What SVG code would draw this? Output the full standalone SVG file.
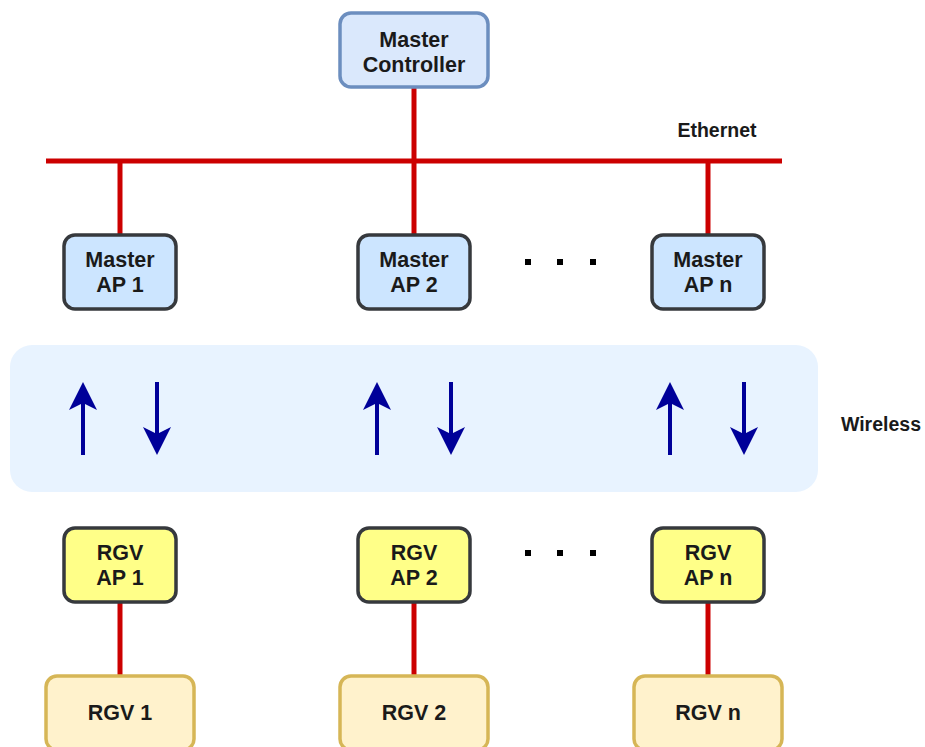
<svg xmlns="http://www.w3.org/2000/svg" width="925" height="747" viewBox="0 0 925 747">
<style>
.t{font-family:"Liberation Sans",Arial,sans-serif;font-size:21.5px;font-weight:bold;fill:#1a1a1a;text-anchor:middle}
.s{font-family:"Liberation Sans",Arial,sans-serif;font-size:19.5px;font-weight:bold;fill:#1a1a1a;text-anchor:middle}
.eth{stroke:#cc0000;stroke-width:5;fill:none}
.wl{stroke:#000099;stroke-width:4;fill:none}
.mc{fill:#dae8fc;stroke:#6c8ebf;stroke-width:3.5}
.ap{fill:#cce5ff;stroke:#36393d;stroke-width:3.5}
.ra{fill:#ffff88;stroke:#36393d;stroke-width:3.5}
.rg{fill:#fff2cc;stroke:#d6b656;stroke-width:3.5}
.dot{fill:#000}
</style>
<defs>
<marker id="ah" viewBox="0 0 28 28" refX="20" refY="14" markerWidth="28" markerHeight="28" markerUnits="userSpaceOnUse" orient="auto">
<path d="M0,0 L28,14 L0,28 L7,14 Z" fill="#000099"/>
</marker>
</defs>
<rect id="wireless-zone" x="10" y="345" width="808" height="147" rx="22" fill="#e8f3ff"/>
<g id="connectors">
<line class="eth" x1="414" y1="88" x2="414" y2="161"/>
<line class="eth" x1="46" y1="161" x2="782" y2="161"/>
<line class="eth" x1="120" y1="161" x2="120" y2="235"/>
<line class="eth" x1="414" y1="161" x2="414" y2="235"/>
<line class="eth" x1="708" y1="161" x2="708" y2="235"/>
<line class="eth" x1="120" y1="602" x2="120" y2="676"/>
<line class="eth" x1="414" y1="602" x2="414" y2="676"/>
<line class="eth" x1="708" y1="602" x2="708" y2="676"/>
<line class="wl" x1="83" y1="455" x2="83" y2="390" marker-end="url(#ah)"/>
<line class="wl" x1="157" y1="382" x2="157" y2="447" marker-end="url(#ah)"/>
<line class="wl" x1="377" y1="455" x2="377" y2="390" marker-end="url(#ah)"/>
<line class="wl" x1="451" y1="382" x2="451" y2="447" marker-end="url(#ah)"/>
<line class="wl" x1="670" y1="455" x2="670" y2="390" marker-end="url(#ah)"/>
<line class="wl" x1="744" y1="382" x2="744" y2="447" marker-end="url(#ah)"/>
</g>
<g id="master-controller">
<rect class="mc" x="340" y="13" width="148" height="74" rx="11"/>
<text class="t" x="414" y="47">Master</text>
<text class="t" x="414" y="72">Controller</text>
</g>
<text class="s" x="717" y="137">Ethernet</text>
<text class="s" x="881" y="431">Wireless</text>
<g id="master-ap-1">
<rect class="ap" x="64" y="235" width="112" height="74" rx="11"/>
<text class="t" x="120" y="267">Master</text>
<text class="t" x="120" y="292">AP 1</text>
</g>
<g id="master-ap-2">
<rect class="ap" x="358" y="235" width="112" height="74" rx="11"/>
<text class="t" x="414" y="267">Master</text>
<text class="t" x="414" y="292">AP 2</text>
</g>
<g id="master-ap-n">
<rect class="ap" x="652" y="235" width="112" height="74" rx="11"/>
<text class="t" x="708" y="267">Master</text>
<text class="t" x="708" y="292">AP n</text>
</g>
<g id="dots-top">
<rect class="dot" x="525" y="259" width="6" height="6"/>
<rect class="dot" x="557" y="259" width="6" height="6"/>
<rect class="dot" x="590" y="259" width="6" height="6"/>
</g>
<g id="dots-bottom">
<rect class="dot" x="525" y="550" width="6" height="6"/>
<rect class="dot" x="557" y="550" width="6" height="6"/>
<rect class="dot" x="590" y="550" width="6" height="6"/>
</g>
<g id="rgv-ap-1">
<rect class="ra" x="64" y="528" width="112" height="74" rx="11"/>
<text class="t" x="120" y="560">RGV</text>
<text class="t" x="120" y="585">AP 1</text>
</g>
<g id="rgv-ap-2">
<rect class="ra" x="358" y="528" width="112" height="74" rx="11"/>
<text class="t" x="414" y="560">RGV</text>
<text class="t" x="414" y="585">AP 2</text>
</g>
<g id="rgv-ap-n">
<rect class="ra" x="652" y="528" width="112" height="74" rx="11"/>
<text class="t" x="708" y="560">RGV</text>
<text class="t" x="708" y="585">AP n</text>
</g>
<g id="rgv-1">
<rect class="rg" x="46" y="676" width="148" height="74" rx="11"/>
<text class="t" x="120" y="720">RGV 1</text>
</g>
<g id="rgv-2">
<rect class="rg" x="340" y="676" width="148" height="74" rx="11"/>
<text class="t" x="414" y="720">RGV 2</text>
</g>
<g id="rgv-n">
<rect class="rg" x="634" y="676" width="148" height="74" rx="11"/>
<text class="t" x="708" y="720">RGV n</text>
</g>
</svg>
